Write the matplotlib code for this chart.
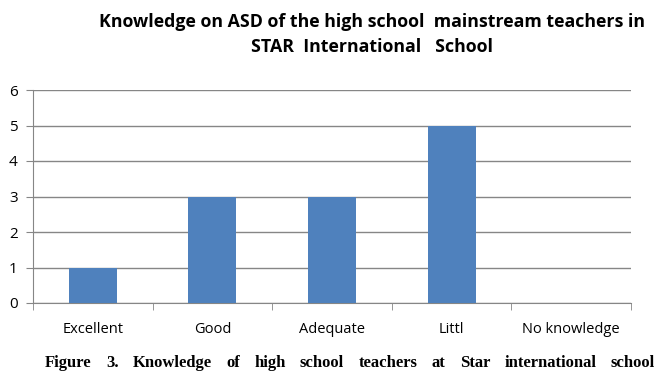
import numpy as np
import matplotlib.pyplot as plt

categories = ["Excellent", "Good", "Adequate", "Littl", "No knowledge"]
values = [1, 3, 3, 5, 0]
y_ticks = [0, 1, 2, 3, 4, 5, 6]

title = "Knowledge on ASD of the high school  mainstream teachers in\nSTAR  International   School"
caption = "Figure 3. Knowledge of high school teachers at Star international school"

fig = plt.figure(figsize=(6.67, 3.84), dpi=100)
ax = fig.add_axes([33 / 667, 1 - 303 / 384, 598 / 667, 213 / 384])

x = np.arange(len(categories))
ax.bar(x, values, width=0.4, color="#4F81BD", zorder=3)

ax.set_xlim(-0.5, len(categories) - 0.5)
ax.set_ylim(0, 6)
ax.set_yticks(y_ticks)
ax.yaxis.grid(True, color="#868686", linewidth=1, zorder=0)
ax.set_xticks(x)
ax.set_xticklabels(categories, fontsize=10.5, family="Open Sans")
ax.set_xticks(np.arange(-0.5, len(categories)), minor=True)
ax.tick_params(axis="x", which="major", length=0, pad=14)
ax.tick_params(axis="x", which="minor", length=5, color="#868686")
ax.tick_params(axis="y", length=5, color="#868686", labelsize=11, pad=6)
for lbl in ax.get_yticklabels():
    lbl.set_family("Open Sans")

for side in ["top", "right"]:
    ax.spines[side].set_visible(False)
for side in ["left", "bottom"]:
    ax.spines[side].set_color("#868686")

fig.text(0.557, 0.965, title, ha="center", va="top", fontsize=12.8,
         fontweight="bold", family="Open Sans", linespacing=1.45)

# justified caption: spread words across the line like the printed figure
words = caption.split()
renderer = fig.canvas.get_renderer()
texts = [fig.text(0, 0.035, w, ha="left", va="bottom", fontsize=12,
                  fontweight="bold", family="Liberation Serif") for w in words]
widths = [t.get_window_extent(renderer).width for t in texts]
x0, x1 = 45, 655
gap = (x1 - x0 - sum(widths)) / (len(words) - 1)
pos = x0
for t, w in zip(texts, widths):
    t.set_x(pos / 667)
    pos += w + gap

fig.savefig("out.png", dpi=100)
